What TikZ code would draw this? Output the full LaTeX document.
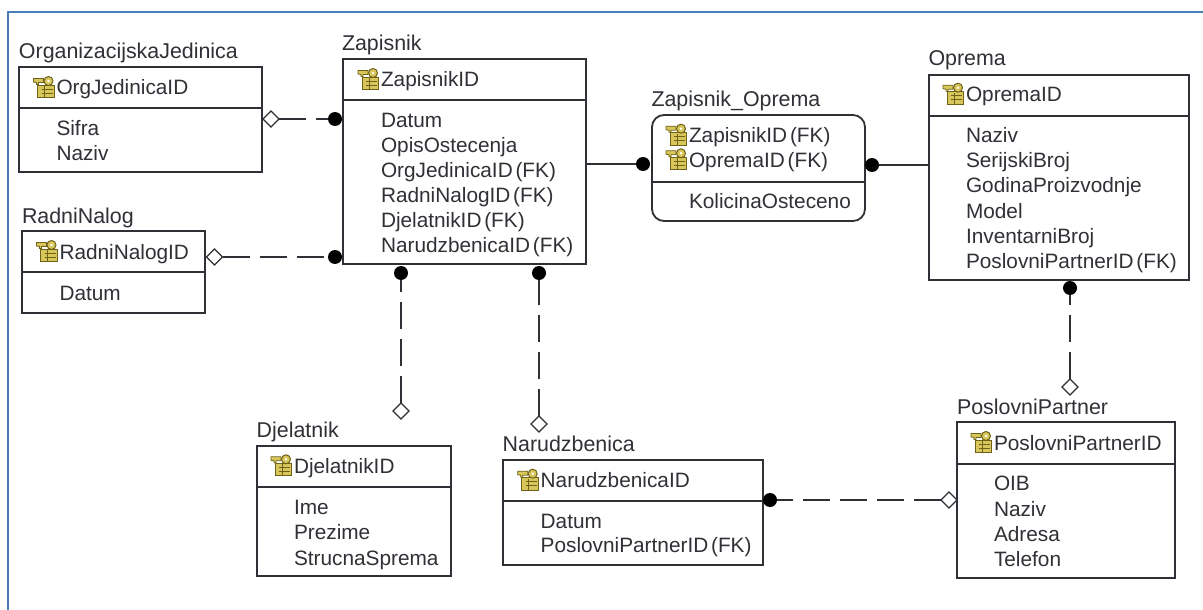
\documentclass[tikz,border=0pt]{standalone}
\usepackage{fontspec}
\setmainfont{Liberation Sans}
\usetikzlibrary{shapes.geometric}
\definecolor{ink}{HTML}{303036}
\definecolor{frameblue}{HTML}{4A7EBB}
\definecolor{keygold}{HTML}{D9C65A}
\definecolor{keydark}{HTML}{6E6118}
\newcommand{\FK}{\hspace{-3pt} (FK)}
\tikzset{
  box/.style={draw=ink,line width=1.8pt,fill=white,rectangle,inner sep=0pt,outer sep=0pt},
  rbox/.style={box,rounded corners=12pt},
  divider/.style={draw=ink,line width=1.8pt},
  txt/.style={anchor=base west,inner sep=0pt,outer sep=0pt,text=ink,font=\fontsize{20.8}{24}\selectfont},
  ttl/.style={txt,font=\fontsize{21.4}{24}\selectfont},
  dotend/.style={circle,fill=black,inner sep=0pt,outer sep=0pt,minimum size=14pt},
  diamondend/.style={diamond,draw=ink,fill=white,line width=1.2pt,aspect=1,inner sep=0pt,outer sep=0pt,minimum size=16pt},
  conn/.style={draw=ink,line width=1.7pt},
  dashconn/.style={conn,dash pattern=on 27pt off 10pt},
  keyicon/.pic={
    \draw[keydark,fill=keygold,line width=.8pt] (-19,-10) rectangle (-2.5,2.5);
    \draw[keydark,line width=.7pt] (-15,-6) -- (-4,-6) (-15,-2) -- (-4,-2) (-12,-9) -- (-12,2);
    \fill[keygold,draw=keydark,line width=.8pt] (-23,-16.5) -- (-13,-16.5) -- (-13,-12.5) -- (-18,-12.5) -- (-18,-10.5) -- (-20,-10.5) -- (-20,-12.5) -- (-23,-13) -- cycle;
    \draw[keydark,fill=keygold,line width=1pt] (-8,-14) circle (4.5);
    \fill[white] (-8,-14) circle (1.4);
  }
}
\newcommand{\entity}[6][box]{% style, name, left, top, right, bottom
  \node[#1,minimum width={#5-#3},minimum height={#6-#4}] (#2) at ({(#3+#5)/2},{(#4+#6)/2}) {};
}
\begin{document}
\begin{tikzpicture}[x=1pt,y=-1pt]
\useasboundingbox (0,0) rectangle (1203,610);
\fill[white] (0,0) rectangle (1203,610);
\draw[frameblue,line width=2.4pt] (8,610) -- (8,12) -- (1203,12);

% OrganizacijskaJedinica
\entity{org}{19}{67}{262}{172}
\draw[divider] (19,108) -- (262,108);
\node[ttl] (orgT) at (19,59) {OrganizacijskaJedinica};
\pic at (56.5,95) {keyicon};
\node[txt] (orgK) at (56.5,95) {OrgJedinicaID};
\node[txt] (orgA1) at (56.5,135.5) {Sifra};
\node[txt] (orgA2) at (56.5,160.5) {Naziv};

% RadniNalog
\entity{rad}{22}{231}{205}{313}
\draw[divider] (22,272) -- (205,272);
\node[ttl] (radT) at (22,223) {RadniNalog};
\pic at (59.5,259) {keyicon};
\node[txt] (radK) at (59.5,259) {RadniNalogID};
\node[txt] (radA1) at (59.5,300) {Datum};

% Zapisnik
\entity{zap}{343}{59}{586}{264}
\draw[divider] (343,100) -- (586,100);
\node[ttl] (zapT) at (342,50.7) {Zapisnik};
\pic at (381,87) {keyicon};
\node[txt] (zapK) at (381,87) {ZapisnikID};
\node[txt] (zapA1) at (381,127.5) {Datum};
\node[txt] (zapA2) at (381,152.4) {OpisOstecenja};
\node[txt] (zapA3) at (381,177.3) {OrgJedinicaID\FK};
\node[txt] (zapA4) at (381,202.2) {RadniNalogID\FK};
\node[txt] (zapA5) at (381,227.1) {DjelatnikID\FK};
\node[txt] (zapA6) at (381,252) {NarudzbenicaID\FK};

% Zapisnik_Oprema
\entity[rbox]{zo}{652}{115}{865}{221}
\draw[divider] (652,182) -- (865,182);
\node[ttl] (zoT) at (651.5,106.7) {Zapisnik\_Oprema};
\pic at (689,142.7) {keyicon};
\node[txt] (zoK1) at (689,142.7) {ZapisnikID\FK};
\pic at (689,167.3) {keyicon};
\node[txt] (zoK2) at (689,167.3) {OpremaID\FK};
\node[txt] (zoA1) at (689,208.3) {KolicinaOsteceno};

% Oprema
\entity{opr}{929}{75}{1189}{280}
\draw[divider] (929,116) -- (1189,116);
\node[ttl] (oprT) at (928.5,65.7) {Oprema};
\pic at (966,101.7) {keyicon};
\node[txt] (oprK) at (966,101.7) {OpremaID};
\node[txt] (oprA1) at (966,142.7) {Naziv};
\node[txt] (oprA2) at (966,167.8) {SerijskiBroj};
\node[txt] (oprA3) at (966,192.9) {GodinaProizvodnje};
\node[txt] (oprA4) at (966,218) {Model};
\node[txt] (oprA5) at (966,243.1) {InventarniBroj};
\node[txt] (oprA6) at (966,268.2) {PoslovniPartnerID\FK};

% Djelatnik
\entity{dje}{257}{446}{451}{576}
\draw[divider] (257,487) -- (451,487);
\node[ttl] (djeT) at (256.7,437.7) {Djelatnik};
\pic at (294,473.3) {keyicon};
\node[txt] (djeK) at (294,473.3) {DjelatnikID};
\node[txt] (djeA1) at (294,514.3) {Ime};
\node[txt] (djeA2) at (294,539.6) {Prezime};
\node[txt] (djeA3) at (294,565) {StrucnaSprema};

% Narudzbenica
\entity{nar}{503}{460}{763}{565}
\draw[divider] (503,501) -- (763,501);
\node[ttl] (narT) at (502.7,451.7) {Narudzbenica};
\pic at (540.7,487.7) {keyicon};
\node[txt] (narK) at (540.7,487.7) {NarudzbenicaID};
\node[txt] (narA1) at (540.7,528.3) {Datum};
\node[txt] (narA2) at (540.7,552.7) {PoslovniPartnerID\FK};

% PoslovniPartner
\entity{pp}{957}{422}{1175}{578}
\draw[divider] (957,464) -- (1175,464);
\node[ttl] (ppT) at (957,414) {PoslovniPartner};
\pic at (994,450) {keyicon};
\node[txt] (ppK) at (994,450) {PoslovniPartnerID};
\node[txt] (ppA1) at (994,490.7) {OIB};
\node[txt] (ppA2) at (994,516) {Naziv};
\node[txt] (ppA3) at (994,541.4) {Adresa};
\node[txt] (ppA4) at (994,566.7) {Telefon};

% connector ends
\node[diamondend] (d1) at (271,119) {};
\node[dotend] (c1) at (335,119) {};
\node[diamondend] (d2) at (214.5,257) {};
\node[dotend] (c2) at (335,257) {};
\node[diamondend] (d3) at (401,411) {};
\node[dotend] (c3) at (401,273) {};
\node[diamondend] (d4) at (539,424) {};
\node[dotend] (c4) at (539,273) {};
\node[diamondend] (d5) at (1070,387) {};
\node[dotend] (c5) at (1070,288) {};
\node[diamondend] (d6) at (949,500) {};
\node[dotend] (c6) at (770,500) {};
\node[dotend] (c7) at (643,164) {};
\node[dotend] (c8) at (872,165) {};

% connectors
\draw[dashconn] (d1) -- (c1);
\draw[dashconn] (d2) -- (c2);
\draw[dashconn] (d3) -- (c3);
\draw[dashconn] (d4) -- (c4);
\draw[dashconn] (d5) -- (c5);
\draw[dashconn] (d6) -- (c6);
\draw[conn] (c7 -| zap.east) -- (c7);
\draw[conn] (c8) -- (c8 -| opr.west);
\end{tikzpicture}
\end{document}
